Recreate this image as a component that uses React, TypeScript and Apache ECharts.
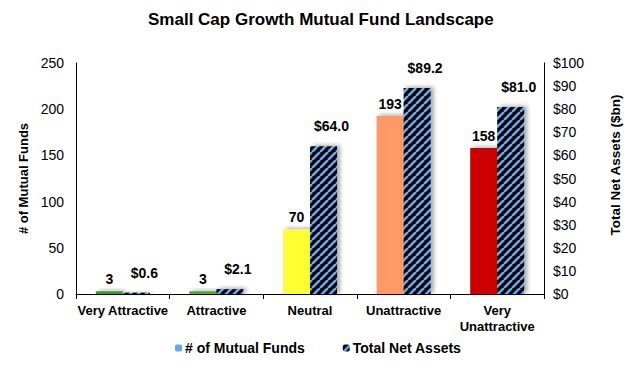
import React, { useEffect, useRef } from "react";
import * as echarts from "echarts";

const categories = ["Very Attractive", "Attractive", "Neutral", "Unattractive", "Very\nUnattractive"];
const fundCounts = [3, 3, 70, 193, 158];
const netAssets = [0.6, 2.1, 64.0, 89.2, 81.0];
const countColors = ["#2ca02c", "#4caf1a", "#ffff33", "#ff9966", "#cc0000"];
const leftTicks = { min: 0, max: 250, interval: 50 };
const rightTicks = { min: 0, max: 100, interval: 10 };

function makeStripe(): string {
  const c = document.createElement("canvas");
  const s = 8;
  c.width = s;
  c.height = s;
  const ctx = c.getContext("2d")!;
  ctx.fillStyle = "#000000";
  ctx.fillRect(0, 0, s, s);
  ctx.strokeStyle = "#63aaf0";
  ctx.lineWidth = 2.6;
  for (const o of [-s, 0, s]) {
    ctx.beginPath();
    ctx.moveTo(o, s);
    ctx.lineTo(o + s, 0);
    ctx.stroke();
  }
  return c.toDataURL();
}

export default function App() {
  const ref = useRef<HTMLDivElement>(null);
  useEffect(() => {
    if (!ref.current) return;
    const chart = echarts.init(ref.current, null, { renderer: "svg" });
    const stripe = { image: makeStripe(), repeat: "repeat" } as any;
    const font = "Liberation Sans, Arial, sans-serif";
    const shadow = {
      shadowColor: "rgba(0,0,0,0.35)",
      shadowBlur: 4,
      shadowOffsetX: 3,
      shadowOffsetY: -1,
    };
    chart.setOption({
      animation: false,
      textStyle: { fontFamily: font },
      title: {
        text: "Small Cap Growth Mutual Fund Landscape",
        left: 143,
        top: 6,
        padding: 5,
        textStyle: { fontSize: 17, fontWeight: "bold", color: "#000", fontFamily: font },
      },
      legend: {
        bottom: 8,
        left: 170,
        padding: 5,
        itemWidth: 7,
        itemHeight: 7,
        itemGap: 38,
        textStyle: { fontSize: 14, fontWeight: "bold", color: "#000", fontFamily: font, padding: [0, 0, 0, -2] },
        data: [
          { name: "# of Mutual Funds", itemStyle: { color: "#5fa8f5" } },
          { name: "Total Net Assets" },
        ],
      },
      grid: { left: 76, right: 85, top: 63, bottom: 74 },
      xAxis: {
        type: "category",
        data: categories,
        axisLine: { lineStyle: { color: "#000" } },
        axisTick: { show: true, length: 5, lineStyle: { color: "#000" } },
        axisLabel: {
          color: "#000",
          fontWeight: "bold",
          fontSize: 13,
          fontFamily: font,
          margin: 8,
          interval: 0,
          lineHeight: 16,
        },
      },
      yAxis: [
        {
          type: "value",
          ...leftTicks,
          name: "# of Mutual Funds",
          nameLocation: "middle",
          nameGap: 41,
          nameTextStyle: { fontSize: 13, fontWeight: "bold", color: "#000", fontFamily: font },
          axisLine: { show: true, lineStyle: { color: "#000" } },
          axisTick: { show: false },
          splitLine: { show: false },
          axisLabel: { color: "#000", fontSize: 14, margin: 12, fontFamily: font },
        },
        {
          type: "value",
          ...rightTicks,
          name: "Total Net Assets ($bn)",
          nameLocation: "middle",
          nameGap: 64,
          nameRotate: 90,
          nameTextStyle: {
            fontSize: 13.5,
            fontWeight: "bold",
            color: "#000",
            fontFamily: font,
            padding: [0, 0, 0, 27],
          },
          axisLine: { show: true, lineStyle: { color: "#000" } },
          axisTick: { show: false },
          splitLine: { show: false },
          axisLabel: { color: "#000", fontSize: 14, margin: 9, fontFamily: font, formatter: (v: number) => "$" + v },
        },
      ],
      series: [
        {
          name: "# of Mutual Funds",
          type: "bar",
          yAxisIndex: 0,
          barWidth: 27,
          barGap: "0%",
          itemStyle: { color: "#5fa8f5", ...shadow },
          data: fundCounts.map((v, i) => ({ value: v, itemStyle: { color: countColors[i] } })),
          label: {
            show: true,
            position: "top",
            distance: 5,
            color: "#000",
            fontWeight: "bold",
            fontSize: 14,
            fontFamily: font,
          },
        },
        {
          name: "Total Net Assets",
          type: "bar",
          yAxisIndex: 1,
          barWidth: 27,
          barGap: "0%",
          itemStyle: { color: stripe, ...shadow },
          data: netAssets,
          label: {
            show: true,
            position: "top",
            distance: 5,
            offset: [8, -8],
            color: "#000",
            fontWeight: "bold",
            fontSize: 14,
            fontFamily: font,
            formatter: (p: any) => "$" + Number(p.value).toFixed(1),
          },
        },
      ],
    });
    return () => chart.dispose();
  }, []);
  return <div ref={ref} style={{ width: 630, height: 368, position: "absolute", left: 0, top: 0 }} />;
}
